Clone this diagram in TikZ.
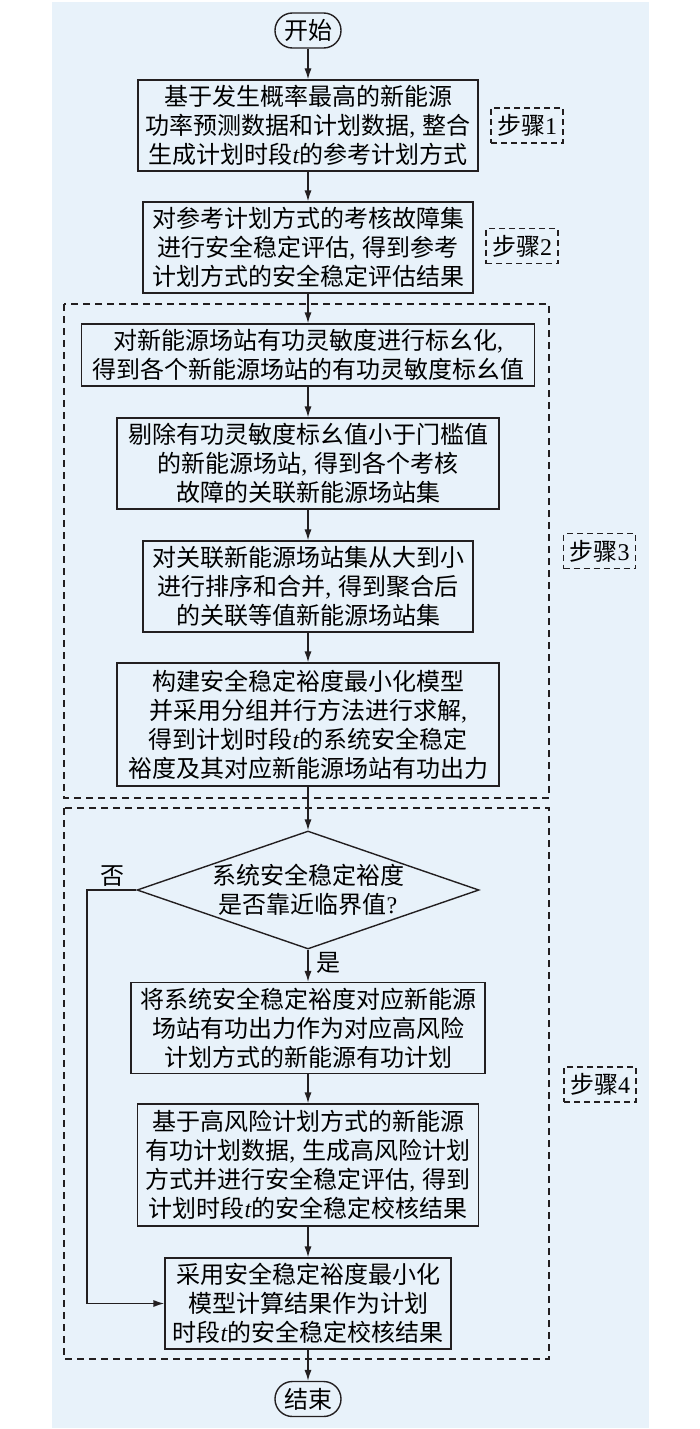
\documentclass[tikz,border=0pt]{standalone}
\usepackage{fontspec}
\setmainfont{Liberation Serif}
\newfontfamily\cjk{Noto Sans CJK SC}
\usepackage{xcolor}
\usepackage{tikz}
\usetikzlibrary{shapes,arrows,arrows.meta}
\usetikzlibrary{shapes.geometric}
\definecolor{panelblue}{RGB}{232,242,250}
\definecolor{linegray}{RGB}{35,31,32}
\newcommand{\tpar}{{\rmfamily\itshape t}}
\newcommand{\lcomma}{{\rmfamily,}\hspace{0.3em}}

\begin{document}
\begin{tikzpicture}[x=0.5pt,y=-0.5pt,
	proc/.style={draw=linegray,line width=0.7pt,align=center,inner xsep=2pt,inner ysep=1pt,font=\cjk\fontsize{12}{14.5}\selectfont},
	term/.style={draw=linegray,line width=0.7pt,rounded corners=8.7pt,minimum width=33pt,minimum height=17.5pt,inner sep=0pt,font=\cjk\fontsize{12}{14.5}\selectfont},
	decide/.style={draw=linegray,line width=0.7pt,diamond,aspect=2.9,inner sep=0pt,minimum width=171pt,minimum height=59pt,align=center,font=\cjk\fontsize{12}{14.5}\selectfont},
	steplabel/.style={draw=linegray,line width=0.7pt,dash pattern=on 3pt off 2pt,minimum width=36pt,minimum height=17.5pt,inner sep=0pt,font=\cjk\fontsize{12}{14.5}\selectfont},
	groupbox/.style={draw=linegray,line width=0.7pt,dash pattern=on 3.5pt off 2.5pt},
	arr/.style={-{Latex[length=5.5pt,width=3.6pt]},line width=0.7pt,draw=linegray},
	lbl/.style={inner sep=0pt,font=\cjk\fontsize{12}{14.5}\selectfont}]
	\useasboundingbox (0,0) rectangle (700,1429);
	\fill[panelblue] (52,2) rectangle (649,1428);
	\draw[groupbox] (64,304) rectangle (549,798);
	\draw[groupbox] (64,808) rectangle (549,1359);

	\node[term] (start) at (308,30.5) {开始};
	\node[proc,minimum width=170pt,minimum height=45.5pt] (plan) at (308,125.5) {基于发生概率最高的新能源\\功率预测数据和计划数据\lcomma 整合\\生成计划时段\tpar 的参考计划方式};
	\node[steplabel] (s1) at (527,125.5) {步骤{\rmfamily 1}};
	\node[proc,minimum width=165pt,minimum height=45.5pt] (assess) at (308,247.5) {对参考计划方式的考核故障集\\进行安全稳定评估\lcomma 得到参考\\计划方式的安全稳定评估结果};
	\node[steplabel] (s2) at (522,246) {步骤{\rmfamily 2}};
	\node[proc,minimum width=226.5pt,minimum height=31pt] (norm) at (308,355) {对新能源场站有功灵敏度进行标幺化\lcomma\\得到各个新能源场站的有功灵敏度标幺值};
	\node[proc,minimum width=191pt,minimum height=45.5pt] (remove) at (308,463.5) {剔除有功灵敏度标幺值小于门槛值\\的新能源场站\lcomma 得到各个考核\\故障的关联新能源场站集};
	\node[proc,minimum width=165pt,minimum height=45.5pt] (merge) at (308,586.5) {对关联新能源场站集从大到小\\进行排序和合并\lcomma 得到聚合后\\的关联等值新能源场站集};
	\node[steplabel] (s3) at (599.5,551) {步骤{\rmfamily 3}};
	\node[proc,minimum width=191pt,minimum height=61.5pt] (model) at (308,724.5) {构建安全稳定裕度最小化模型\\并采用分组并行方法进行求解\lcomma\\得到计划时段\tpar 的系统安全稳定\\裕度及其对应新能源场站有功出力};
	\node[decide] (check) at (308,890) {系统安全稳定裕度\\是否靠近临界值{\rmfamily ?}};
	\node[proc,minimum width=177pt,minimum height=45.5pt] (risk) at (308,1028) {将系统安全稳定裕度对应新能源\\场站有功出力作为对应高风险\\计划方式的新能源有功计划};
	\node[steplabel] (s4) at (600,1084.5) {步骤{\rmfamily 4}};
	\node[proc,minimum width=170.5pt,minimum height=61pt] (verify) at (308,1165) {基于高风险计划方式的新能源\\有功计划数据\lcomma 生成高风险计划\\方式并进行安全稳定评估\lcomma 得到\\计划时段\tpar 的安全稳定校核结果};
	\node[proc,minimum width=143pt,minimum height=45.5pt] (direct) at (308,1303.5) {采用安全稳定裕度最小化\\模型计算结果作为计划\\时段\tpar 的安全稳定校核结果};
	\node[term] (stop) at (308,1399) {结束};
	\node[lbl] (no) at (112,876) {否};
	\node[lbl] (yes) at (328,963) {是};
	\coordinate (bend) at (87,890);

	\draw[arr] (start) -- (plan);
	\draw[arr] (plan) -- (assess);
	\draw[arr] (assess) -- (norm);
	\draw[arr] (norm) -- (remove);
	\draw[arr] (remove) -- (merge);
	\draw[arr] (merge) -- (model);
	\draw[arr] (model) -- (check);
	\draw[arr] (check) -- (risk);
	\draw[arr] (risk) -- (verify);
	\draw[arr] (verify) -- (direct);
	\draw[arr] (direct) -- (stop);
	\draw[arr] (check.west) -- (bend) |- (direct.west);
\end{tikzpicture}
\end{document}
